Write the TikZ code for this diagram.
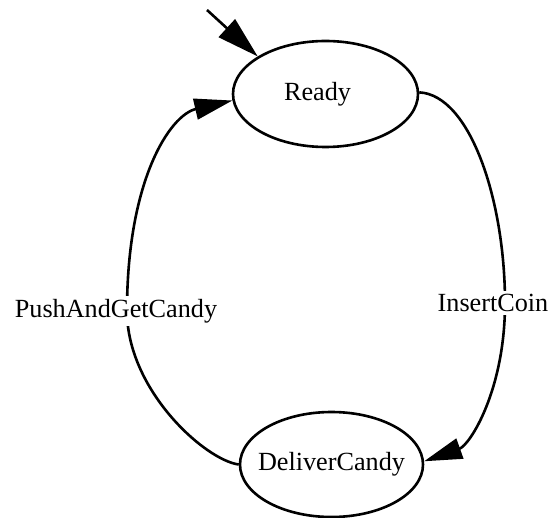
\documentclass[tikz,border=0pt]{standalone}
\usepackage{fontspec}
\setmainfont{Liberation Serif}
\usetikzlibrary{shapes.geometric,arrows.meta}
\begin{document}
\begin{tikzpicture}[x=1pt,y=1pt,
  state/.style={draw,ellipse,line width=2.6pt,inner sep=0pt,font=\fontsize{26.2}{30}\selectfont},
  edge/.style={line width=2.6pt,-{Triangle[length=38pt,width=21pt]}},
  startedge/.style={line width=2.6pt,-{Triangle[length=42pt,width=24pt]}},
  elabel/.style={fill=white,inner sep=3pt,font=\fontsize{26.2}{30}\selectfont}]
\useasboundingbox (0,0) rectangle (551,-518);
\node[state,minimum width=185pt,minimum height=106pt] (ready) at (325.5,-94) {\makebox[0pt]{\hspace*{-16pt}Ready}};
\node[state,minimum width=183pt,minimum height=105pt] (deliver) at (331.5,-464.5) {\makebox[0pt]{DeliverCandy}};
\coordinate (init) at (207,-10);
\draw[startedge] (init) -- (ready.151);
% InsertCoin edge
\draw[edge] (ready.1) .. controls (470,-95) and (505,-200) .. (505,-303)
  .. controls (505,-390) and (470,-445) .. (deliver.2);
% PushAndGetCandy edge
\draw[edge] (deliver.west) .. controls (205,-460) and (127,-390) .. (127,-311)
  .. controls (127,-180) and (170,-115) .. (ready.184);
\node[elabel] (lblcoin) at (493,-303) {InsertCoin};
\node[elabel] (lblpush) at (116,-311) {PushAndGetCandy};
\end{tikzpicture}
\end{document}
